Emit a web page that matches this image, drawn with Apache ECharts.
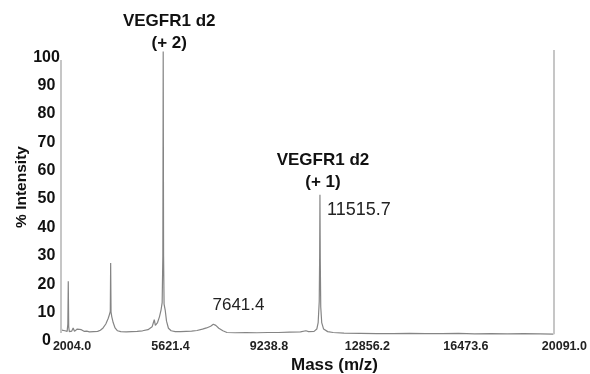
<!DOCTYPE html>
<html>
<head>
<meta charset="utf-8">
<script src="https://cdn.jsdelivr.net/npm/echarts@6/dist/echarts.min.js"></script>
<style>
  html, body { margin: 0; padding: 0; background: #fff; }
  #chart { width: 590px; height: 374px; }
</style>
</head>
<body>
<div id="chart"></div>
<script>
// MALDI-TOF spectrum of VEGFR1 d2: mass (m/z) vs relative intensity (%)
const massValues = [
  2004, 2030, 2080, 2150, 2230, 2255, 2271, 2287, 2310, 2400, 2450, 2500, 2600, 2650, 2750,
  2850, 2950, 3050, 3200, 3350, 3450, 3550, 3650, 3740, 3790, 3815, 3828, 3842, 3870, 3920,
  3990, 4080, 4200, 4400, 4600, 4800, 5000, 5200, 5350, 5430, 5470, 5550, 5620, 5680, 5720,
  5745, 5758, 5772, 5790, 5830, 5880, 5950, 6050, 6200, 6400, 6600, 6800, 7000, 7200, 7350,
  7500, 7600, 7641.4, 7690, 7800, 7950, 8100, 8400, 8800, 9200, 9600, 10000, 10400, 10800, 11000,
  11100, 11300, 11400, 11450, 11490, 11505, 11515.7, 11528, 11545, 11580, 11650, 11800, 12000, 12400, 13000,
  13600, 14200, 14800, 15400, 16000, 16600, 17200, 17800, 18400, 19000, 19600, 20091
];
const intensityValues = [
  5.5, 3.8, 3.4, 3.6, 3.4, 6, 21, 5, 3.3, 3.5, 4.6, 3.4, 4.2, 3.6, 4.0,
  3.4, 3.5, 3.2, 3.3, 3.4, 3.8, 4.6, 6, 8, 9.5, 10.5, 27.5, 10.2, 8.5, 6.5,
  4.6, 3.6, 3.3, 3.2, 3.3, 3.4, 3.6, 4, 5, 7.5, 5.5, 6.5, 8.5, 11, 13.5,
  30, 102, 30, 13, 11, 7, 4.5, 3.6, 3.3, 3.3, 3.4, 3.5, 3.7, 4.2, 4.6,
  5.2, 5.9, 6.3, 5.5, 4.5, 3.6, 3.0, 2.9, 3.0, 2.9, 3.0, 3.0, 3.1, 3.2, 3.6,
  3.3, 3.4, 4.2, 6.5, 14, 30, 51.5, 28, 12, 6.5, 4.2, 3.3, 3.0, 2.8, 2.7,
  2.6, 2.6, 2.7, 2.6, 2.6, 2.7, 2.5, 2.6, 2.5, 2.6, 2.5, 2.4
];

// axis ticks
const massTicks = [2004.0, 5621.4, 9238.8, 12856.2, 16473.6, 20091.0];
const intensityTicks = [0, 10, 20, 30, 40, 50, 60, 70, 80, 90, 100];

// annotated peaks: [mass, intensity]
const peakPlus2 = [5758, 102];
const peakPlus1 = [11515.7, 51.5];
const peakMinor = [7641.4, 6.3];

// acquisition window edges: [mass, from, to]
const leftEdge = [2004, 2.8, 99];
const rightEdge = [20091, 2.4, 102.5];

const spectrum = massValues.map((m, i) => [m, intensityValues[i]]);

const FONT = '"Liberation Sans", Arial, sans-serif';

const chart = echarts.init(document.getElementById('chart'), null, { renderer: 'canvas' });

chart.setOption({
  animation: false,
  backgroundColor: '#ffffff',
  grid: { left: 61, right: 36, top: 50, bottom: 33 },
  xAxis: {
    type: 'value',
    min: massTicks[0],
    max: massTicks[massTicks.length - 1],
    axisLine: { show: false },
    axisTick: { show: false },
    splitLine: { show: false },
    axisLabel: {
      customValues: massTicks,
      formatter: v => v.toFixed(1),
      fontFamily: FONT,
      fontWeight: 'bold',
      fontSize: 12.5,
      color: '#222',
      margin: -1,
      padding: [0, 0, 0, 22]
    }
  },
  yAxis: {
    type: 'value',
    min: 0,
    max: 102.5,
    axisLine: { show: false },
    axisTick: { show: false },
    splitLine: { show: false },
    axisLabel: {
      customValues: intensityTicks,
      fontFamily: FONT,
      fontWeight: 'bold',
      fontSize: 16,
      color: '#111',
      align: 'center',
      margin: 14.5
    }
  },
  series: [{
    type: 'line',
    data: spectrum,
    showSymbol: false,
    symbol: 'none',
    silent: true,
    lineStyle: { color: '#858585', width: 1.2 },
    markLine: {
      silent: true,
      symbol: 'none',
      label: { show: false },
      lineStyle: { color: '#c6c6c6', width: 2, type: 'solid' },
      data: [
        [{ coord: [leftEdge[0], leftEdge[1]] }, { coord: [leftEdge[0], leftEdge[2]] }],
        [{ coord: [rightEdge[0], rightEdge[1]] }, { coord: [rightEdge[0], rightEdge[2]] }]
      ]
    },
    markPoint: {
      silent: true,
      symbol: 'circle',
      symbolSize: 0,
      data: [
        {
          coord: peakPlus2,
          label: {
            formatter: 'VEGFR1 d2\n(+ 2)',
            position: 'inside',
            offset: [6, -19.5],
            align: 'center',
            verticalAlign: 'middle',
            lineHeight: 22,
            fontFamily: FONT,
            fontWeight: 'bold',
            fontSize: 17,
            color: '#111'
          }
        },
        {
          coord: peakPlus1,
          label: {
            formatter: 'VEGFR1 d2\n(+ 1)',
            position: 'inside',
            offset: [3, -23.5],
            align: 'center',
            verticalAlign: 'middle',
            lineHeight: 22,
            fontFamily: FONT,
            fontWeight: 'bold',
            fontSize: 17,
            color: '#111'
          }
        },
        {
          coord: peakPlus1,
          label: {
            formatter: String(peakPlus1[0]),
            position: 'inside',
            offset: [7, 15.5],
            align: 'left',
            verticalAlign: 'middle',
            fontFamily: FONT,
            fontSize: 18,
            color: '#222'
          }
        },
        {
          coord: peakMinor,
          label: {
            formatter: String(peakMinor[0]),
            position: 'inside',
            offset: [24, -18],
            align: 'center',
            verticalAlign: 'middle',
            fontFamily: FONT,
            fontSize: 17,
            color: '#222'
          }
        }
      ]
    }
  }],
  graphic: [
    {
      type: 'text',
      left: 335 - 44,
      top: 357,
      style: {
        text: 'Mass (m/z)',
        font: 'bold 17px ' + FONT,
        fill: '#111'
      }
    },
    {
      type: 'text',
      x: 22,
      y: 187,
      rotation: Math.PI / 2,
      style: {
        text: '% Intensity',
        font: 'bold 15.5px ' + FONT,
        fill: '#111',
        align: 'center',
        verticalAlign: 'middle'
      }
    }
  ]
});
</script>
</body>
</html>
